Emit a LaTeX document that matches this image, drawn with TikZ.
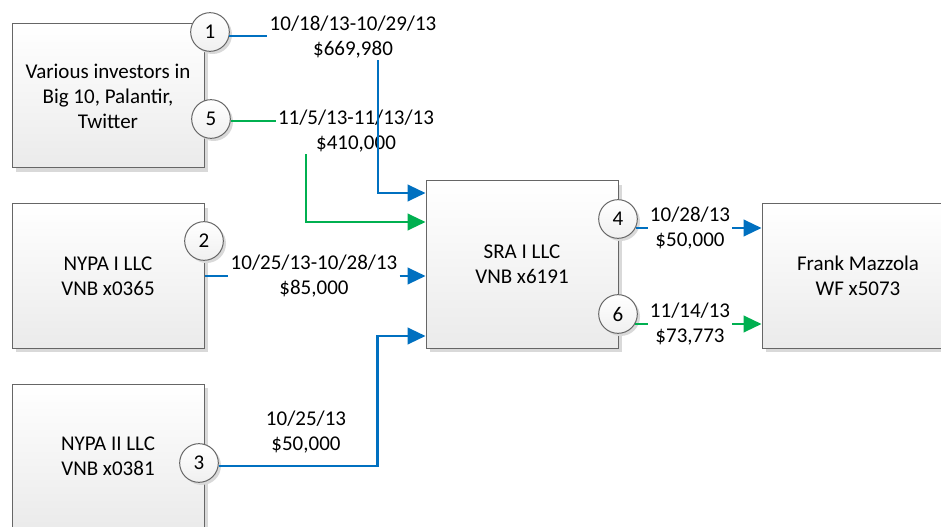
\documentclass[tikz,border=0pt]{standalone}
\usepackage{fontspec}
\setmainfont{Carlito}
\usetikzlibrary{arrows.meta,shadows,calc}

\definecolor{flowblue}{HTML}{0070C0}
\definecolor{flowgreen}{HTML}{00B050}

\begin{document}
\begin{tikzpicture}[x=0.75pt, y=-0.75pt,
    font=\fontsize{15.75}{18.75}\selectfont,
    party/.style={rectangle, draw=black!60, line width=0.75pt, top color=white, bottom color=black!8,
      drop shadow={shadow xshift=3pt, shadow yshift=-3pt, fill=black!15, opacity=1},
      minimum width=144pt, minimum height=108pt, align=center},
    stepno/.style={circle, draw=black!60, line width=0.75pt, top color=white, bottom color=black!6,
      drop shadow={shadow xshift=2pt, shadow yshift=-2pt, fill=black!15, opacity=1},
      minimum size=29pt, inner sep=0pt},
    amount/.style={align=center, inner sep=1.5pt},
    bflow/.style={draw=flowblue, line width=1.6pt},
    gflow/.style={draw=flowgreen, line width=1.6pt},
    tip/.style={-{Triangle[length=13.5pt, width=12.5pt]}}]
    \useasboundingbox (0,0) rectangle (941,527);
    \clip (0,0) rectangle (941,527);

    \node[party] (inv) at (108, 96) {Various investors in\\Big 10, Palantir,\\Twitter};
    \node[party] (nypa1) at (108, 276) {NYPA I LLC\\VNB x0365};
    \node[party] (nypa2) at (108, 456) {NYPA II LLC\\VNB x0381};
    \node[party, minimum height=125.25pt] (sra) at (522, 264.5) {SRA I LLC\\VNB x6191};
    \node[party] (frank) at (858, 276) {Frank Mazzola\\WF x5073};

    \node[stepno] (c1) at (210, 32) {1};
    \node[stepno] (c5) at (211, 119) {5};
    \node[stepno] (c2) at (204, 241) {2};
    \node[stepno] (c3) at (199, 463) {3};
    \node[stepno] (c4) at (618, 219) {4};
    \node[stepno] (c6) at (618, 314) {6};

    \node[amount] (l1) at (353, 37) {10/18/13-10/29/13\\\$669,980};
    \node[amount] (l5) at (356, 131) {11/5/13-11/13/13\\\$410,000};
    \node[amount] (l2) at (314, 276) {10/25/13-10/28/13\\\$85,000};
    \node[amount] (l3) at (306, 432) {10/25/13\\\$50,000};
    \node[amount] (l4) at (690, 228) {10/28/13\\\$50,000};
    \node[amount] (l6) at (690, 324) {11/14/13\\\$73,773};

    % 矢印を引く
    \draw[bflow] (c1.-12) -- (c1.-12 -| l1.west);
    \draw[bflow, tip] ($(l1.south)+(25,0)$) |- ($(sra.west)+(0,-71.5)$);
    \draw[gflow] (c5.-6) -- (c5.-6 -| l5.west);
    \draw[gflow, tip] ($(l5.south)+(-50,0)$) |- ($(sra.west)+(0,-42.5)$);
    \draw[bflow] (nypa1.east) -- (nypa1.east -| l2.west);
    \draw[bflow, tip] (l2.east) -- (l2.east -| sra.west);
    \draw[bflow, tip] (c3.-9) -| ($(sra.west)+(-48,71.5)$) -- ($(sra.west)+(0,71.5)$);
    \draw[bflow] (c4.-27) -- (c4.-27 -| l4.west);
    \draw[bflow, tip] (l4.east) -- (l4.east -| frank.west);
    \draw[gflow] (c6.-30) -- (c6.-30 -| l6.west);
    \draw[gflow, tip] (l6.east) -- (l6.east -| frank.west);
\end{tikzpicture}
\end{document}
